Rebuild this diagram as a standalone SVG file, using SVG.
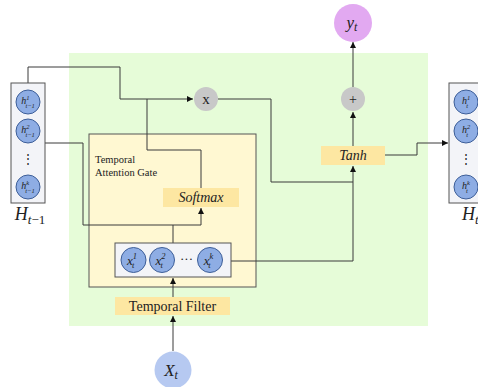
<svg xmlns="http://www.w3.org/2000/svg" width="478" height="387" viewBox="0 0 478 387">
<defs>
<marker id="ah" viewBox="0 0 10 10" refX="10" refY="5" markerWidth="6" markerHeight="6" orient="auto" markerUnits="userSpaceOnUse">
<path d="M0,0 L10,5 L0,10 z" fill="#111"/>
</marker>
<style>
.sr{font-family:"Liberation Serif","DejaVu Serif",serif;fill:#222}
.it{font-family:"Liberation Serif","DejaVu Serif",serif;font-style:italic;fill:#222}
.box{fill:#f3f4f8;stroke:#555;stroke-width:1}
.cell{fill:#8eade4;stroke:#3d5e98;stroke-width:1}
.op{fill:#c8c8c8}
.lbl{fill:#fde7a2}
.ln{fill:none;stroke:#3a3a3a;stroke-width:1}
</style>
</defs>
<rect width="478" height="387" fill="#fff"/>
<rect id="bg" x="69" y="53" width="359" height="273" fill="#e6fcd8"/>
<g id="gate">
<rect x="89" y="134" width="167" height="153" fill="#fff8d2" stroke="#555" stroke-width="1"/>
<text class="sr" x="95" y="163" font-size="10.5">Temporal</text>
<text class="sr" x="95" y="176" font-size="10.5">Attention Gate</text>
</g>
<g id="connectors">
<path class="ln" d="M28,83 V67 H120 V99 H193" marker-end="url(#ah)"/>
<path class="ln" d="M147,99 V150 H201 V188"/>
<path class="ln" d="M45,143 H83 V225 H201 V208" marker-end="url(#ah)"/>
<path class="ln" d="M173,243 V225"/>
<path class="ln" d="M218,99 H271 V182 H353"/>
<path class="ln" d="M231,261 H353 V166" marker-end="url(#ah)"/>
<path class="ln" d="M353,146 V112" marker-end="url(#ah)"/>
<path class="ln" d="M353,87 V42" marker-end="url(#ah)"/>
<path class="ln" d="M385,155 H417 V143 H448" marker-end="url(#ah)"/>
<path class="ln" d="M173,297 V278" marker-end="url(#ah)"/>
<path class="ln" d="M173,351 V316" marker-end="url(#ah)"/>
</g>
<g id="Hprev">
<rect class="box" x="11" y="83" width="34" height="120"/>
<circle class="cell" cx="28" cy="102" r="12"/>
<circle class="cell" cx="28" cy="131" r="12"/>
<circle class="cell" cx="28" cy="187" r="12"/>
<text class="it" x="28" y="104" font-size="10" text-anchor="middle">h<tspan font-size="6.5" dy="-4">1</tspan><tspan font-size="6.5" dx="-4" dy="7.5">t−1</tspan></text>
<text class="it" x="28" y="133" font-size="10" text-anchor="middle">h<tspan font-size="6.5" dy="-4">2</tspan><tspan font-size="6.5" dx="-4" dy="7.5">t−1</tspan></text>
<text class="it" x="28" y="189" font-size="10" text-anchor="middle">h<tspan font-size="6.5" dy="-4">k</tspan><tspan font-size="6.5" dx="-4" dy="7.5">t−1</tspan></text>
<text class="sr" x="28" y="163" font-size="12" text-anchor="middle">⋮</text>
<text class="it" x="30" y="220" font-size="18" text-anchor="middle">H<tspan font-size="13" dy="4" font-style="italic">t</tspan><tspan font-size="13" font-style="normal">−1</tspan></text>
</g>
<g id="Ht">
<rect class="box" x="449" y="83" width="34" height="120"/>
<circle class="cell" cx="466" cy="102" r="12"/>
<circle class="cell" cx="466" cy="131" r="12"/>
<circle class="cell" cx="466" cy="187" r="12"/>
<text class="it" x="466" y="104" font-size="10" text-anchor="middle">h<tspan font-size="6.5" dy="-4">1</tspan><tspan font-size="6.5" dx="-4" dy="7.5">t</tspan></text>
<text class="it" x="466" y="133" font-size="10" text-anchor="middle">h<tspan font-size="6.5" dy="-4">2</tspan><tspan font-size="6.5" dx="-4" dy="7.5">t</tspan></text>
<text class="it" x="466" y="189" font-size="10" text-anchor="middle">h<tspan font-size="6.5" dy="-4">k</tspan><tspan font-size="6.5" dx="-4" dy="7.5">t</tspan></text>
<text class="sr" x="466" y="163" font-size="12" text-anchor="middle">⋮</text>
<text class="it" x="462" y="220" font-size="18">H<tspan font-size="13" dy="4">t</tspan></text>
</g>
<g id="xmul">
<circle class="op" cx="206" cy="99" r="12"/>
<text class="sr" x="206" y="104" font-size="15" text-anchor="middle">x</text>
</g>
<g id="plus">
<circle class="op" cx="353" cy="99" r="12"/>
<text class="sr" x="353" y="104" font-size="14" text-anchor="middle" fill="#555">+</text>
</g>
<g id="yt">
<circle cx="353" cy="23" r="19" fill="#e2a9f1"/>
<text class="it" x="352" y="28" font-size="17" text-anchor="middle">y<tspan font-size="12" dy="3">t</tspan></text>
</g>
<g id="tanh">
<rect class="lbl" x="321" y="146" width="64" height="19"/>
<text class="it" x="353" y="160" font-size="14" text-anchor="middle">Tanh</text>
</g>
<g id="softmax">
<rect class="lbl" x="163" y="188" width="76" height="19"/>
<text class="it" x="201" y="202" font-size="14" text-anchor="middle">Softmax</text>
</g>
<g id="xbox">
<rect class="box" x="115" y="243" width="116" height="34"/>
<circle class="cell" cx="133.5" cy="260" r="12.5"/>
<circle class="cell" cx="162" cy="260" r="12.5"/>
<circle class="cell" cx="210" cy="260" r="12.5"/>
<text class="sr" x="186.5" y="263" font-size="13" text-anchor="middle">···</text>
<text class="it" x="132" y="265" font-size="13" text-anchor="middle">x<tspan font-size="8.5" dy="-6">1</tspan><tspan font-size="8.5" dx="-5" dy="9">t</tspan></text>
<text class="it" x="160.5" y="265" font-size="13" text-anchor="middle">x<tspan font-size="8.5" dy="-6">2</tspan><tspan font-size="8.5" dx="-5" dy="9">t</tspan></text>
<text class="it" x="208.5" y="265" font-size="13" text-anchor="middle">x<tspan font-size="8.5" dy="-6">k</tspan><tspan font-size="8.5" dx="-5" dy="9">t</tspan></text>
</g>
<g id="filter">
<rect class="lbl" x="115" y="297" width="115" height="18"/>
<text class="sr" x="172.5" y="311" font-size="14" text-anchor="middle">Temporal Filter</text>
</g>
<g id="Xt">
<circle cx="173" cy="370" r="18.5" fill="#b6c9f1"/>
<text class="it" x="171" y="376" font-size="17" text-anchor="middle">X<tspan font-size="12" dy="3">t</tspan></text>
</g>
</svg>
